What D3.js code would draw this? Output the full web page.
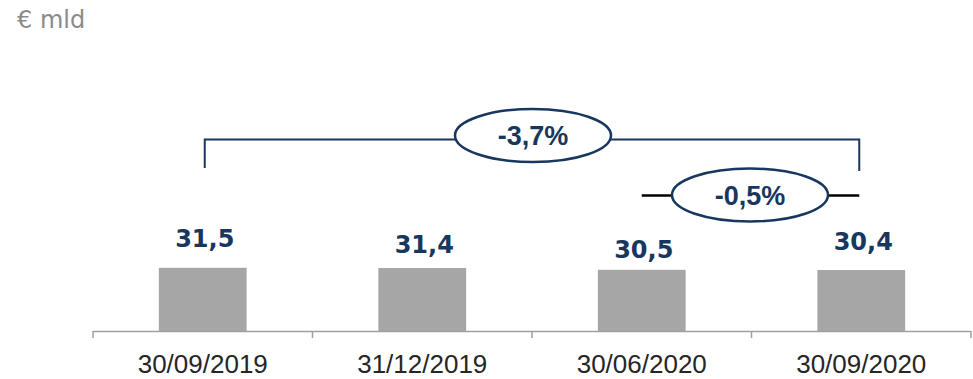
<!DOCTYPE html>
<html>
<head>
<meta charset="utf-8">
<script src="https://cdn.jsdelivr.net/npm/d3@7/dist/d3.min.js"></script>
<style>
  html, body { margin: 0; padding: 0; background: #ffffff; }
  svg { display: block; }
</style>
</head>
<body>
<script>
// Stock values, € billions, by reporting date
const categories = ["30/09/2019", "31/12/2019", "30/06/2020", "30/09/2020"];
const values = [31.5, 31.4, 30.5, 30.4];
const valueLabels = ["31,5", "31,4", "30,5", "30,4"];
const changeLabels = ["-3,7%", "-0,5%"];
const unitLabel = "€ mld";

// Layout
const W = 973, H = 379;
const baseY = 331;
const navy = "#17375e";
const labelLift = [21, 15, 12, 20];

const svg = d3.select("body").append("svg").attr("width", W).attr("height", H);

const x = d3.scaleBand().domain(categories).range([93, 971])
  .paddingInner(0.6).paddingOuter(0.3);
const y = d3.scaleLinear().domain([0, 160]).range([baseY, 10]);
const step = x.step();
const cx = c => x(c) + x.bandwidth() / 2;

// Unit caption
svg.append("text").attr("x", 17).attr("y", 28)
  .attr("font-family", "DejaVu Sans, Verdana, sans-serif")
  .attr("font-size", 24).attr("fill", "#8a8a8a")
  .text(unitLabel);

// Bars
svg.selectAll("rect.bar").data(values).join("rect")
  .attr("class", "bar")
  .attr("x", (d, i) => x(categories[i]))
  .attr("width", x.bandwidth())
  .attr("y", d => y(d))
  .attr("height", d => baseY - y(d))
  .attr("fill", "#a6a6a6");

// Category axis: baseline, separators between categories, labels
const axis = svg.append("g");
axis.append("line")
  .attr("x1", x.range()[0]).attr("x2", x.range()[1])
  .attr("y1", baseY + 0.5).attr("y2", baseY + 0.5)
  .attr("stroke", "#a0a0a0").attr("stroke-width", 1.5);
const bounds = categories.map(c => x(c) - step * x.paddingInner() / 2)
  .concat([x.range()[1]]);
axis.selectAll("line.tick").data(bounds).join("line")
  .attr("class", "tick")
  .attr("x1", d => d).attr("x2", d => d)
  .attr("y1", baseY).attr("y2", baseY + 7)
  .attr("stroke", "#a0a0a0").attr("stroke-width", 1.5);
axis.selectAll("text").data(categories).join("text")
  .attr("x", d => cx(d)).attr("y", 372.5)
  .attr("text-anchor", "middle")
  .attr("font-family", "Liberation Sans, Arial, sans-serif")
  .attr("font-size", 26).attr("fill", "#262626")
  .text(d => d);

// Value labels above bars
svg.selectAll("text.val").data(values).join("text")
  .attr("class", "val")
  .attr("x", (d, i) => cx(categories[i]) + 2)
  .attr("y", (d, i) => y(d) - labelLift[i])
  .attr("text-anchor", "middle")
  .attr("font-family", "DejaVu Sans, Verdana, sans-serif")
  .attr("font-weight", "bold")
  .attr("font-size", 24).attr("fill", navy)
  .text((d, i) => valueLabels[i]);

// Year-on-year change bracket (first to last date)
const x0 = cx(categories[0]) + 2, x3 = cx(categories[3]) - 2;
const bY = 139.5;
svg.append("path")
  .attr("d", `M${x0},168 V${bY} H${x3} V171`)
  .attr("fill", "none").attr("stroke", navy).attr("stroke-width", 2);

// Quarter-on-quarter change connector (last two dates)
const x2 = cx(categories[2]), x3b = cx(categories[3]) - 2;
const qY = 195.5;
svg.append("line")
  .attr("x1", x2).attr("x2", x3b).attr("y1", qY).attr("y2", qY)
  .attr("stroke", "#000000").attr("stroke-width", 2.5);

// Oval badges with change percentages
const badges = [
  { cx: 533, cy: 135.5, label: changeLabels[0] },
  { cx: 750, cy: 195, label: changeLabels[1] }
];
const bg = svg.selectAll("g.badge").data(badges).join("g").attr("class", "badge");
bg.append("ellipse")
  .attr("cx", d => d.cx).attr("cy", d => d.cy)
  .attr("rx", 78).attr("ry", 26.5)
  .attr("fill", "#ffffff").attr("stroke", navy).attr("stroke-width", 2.5);
bg.append("text")
  .attr("x", d => d.cx).attr("y", d => d.cy + 9.5)
  .attr("text-anchor", "middle")
  .attr("font-family", "Liberation Sans, Arial, sans-serif")
  .attr("font-weight", "bold")
  .attr("font-size", 27).attr("fill", navy)
  .text(d => d.label);
</script>
</body>
</html>
